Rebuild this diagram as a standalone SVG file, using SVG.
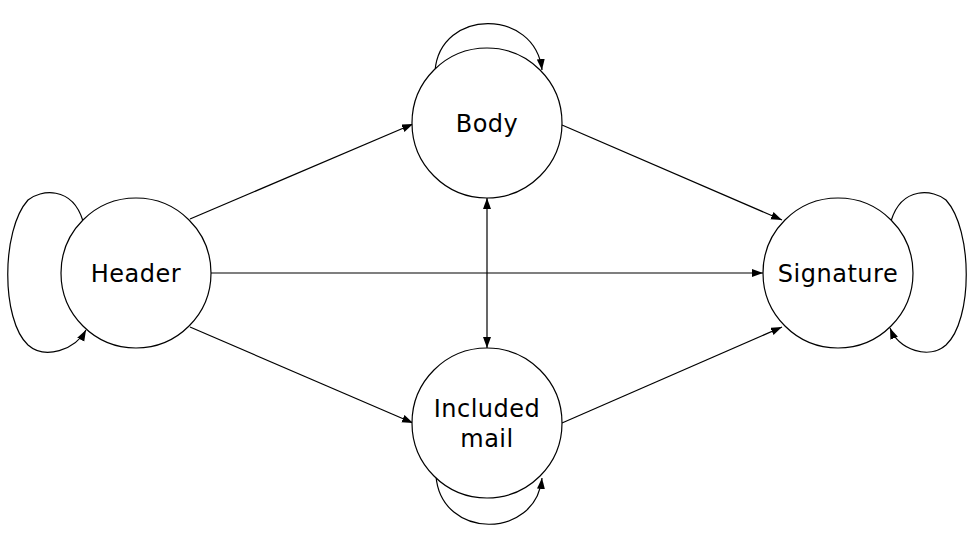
<svg xmlns="http://www.w3.org/2000/svg" width="980" height="541" viewBox="0 0 980 541">
<style>
.node circle{fill:#fff;stroke:#000;stroke-width:1.2}
.node text{font-family:"DejaVu Sans","Liberation Sans",sans-serif;font-size:24px;letter-spacing:0.5px;fill:#000;text-anchor:middle}
.edge{fill:none;stroke:#000;stroke-width:1.2;marker-end:url(#arr)}
</style>
<defs>
<marker id="arr" markerUnits="userSpaceOnUse" markerWidth="12" markerHeight="10" refX="11" refY="4" orient="auto-start-reverse">
<path d="M0,0 L11,4 L0,8 Z" fill="#000"/>
</marker>
</defs>
<rect width="980" height="541" fill="#fff"/>
<g id="connectors">
<line class="edge" x1="190" y1="219" x2="413" y2="124"/>
<line class="edge" x1="211" y1="273" x2="763" y2="273"/>
<line class="edge" x1="190" y1="327" x2="413" y2="423"/>
<line class="edge" x1="562" y1="125" x2="782" y2="220"/>
<line class="edge" x1="562" y1="423" x2="782" y2="327"/>
<line class="edge" x1="487" y1="198" x2="487" y2="348" style="marker-start:url(#arr)"/>
<path class="edge" d="M83,221 C72,185 40,190 28,200 C1,230 1,320 28,345 C45,360 75,350 86,330"/>
<path class="edge" d="M891,221 C902,185 934,190 946,200 C973,230 973,320 946,345 C929,360 899,350 890,328"/>
<path class="edge" d="M435,71 C440,8 535,8 542,70"/>
<path class="edge" d="M436,476 C441,540 536,540 542,478"/>
</g>
<g id="header" class="node"><circle cx="136" cy="273" r="75"/><text x="136" y="282">Header</text></g>
<g id="body" class="node"><circle cx="487" cy="123" r="75"/><text x="487" y="132">Body</text></g>
<g id="included" class="node"><circle cx="487" cy="423" r="75"/><text x="487" y="417">Included</text><text x="487" y="447">mail</text></g>
<g id="signature" class="node"><circle cx="838" cy="273" r="75"/><text x="838" y="282">Signature</text></g>
</svg>
